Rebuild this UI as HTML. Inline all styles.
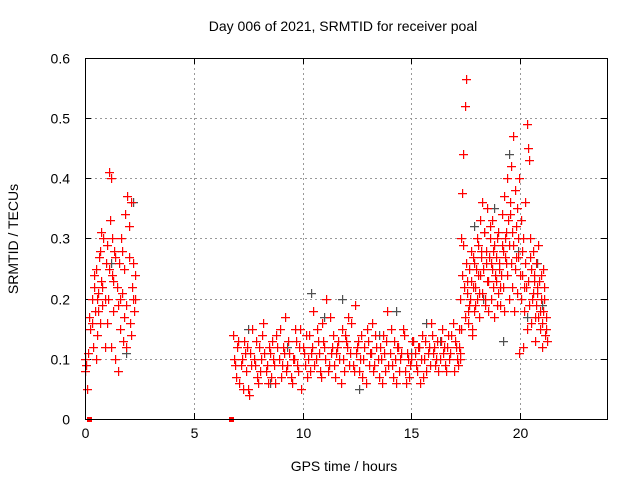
<!DOCTYPE html>
<html><head><meta charset="utf-8"><style>
body{margin:0;background:#fff}
svg{display:block;font-family:"Liberation Sans",sans-serif}
</style></head><body>
<svg id="chart" width="640" height="480" viewBox="0 0 640 480">
<rect width="640" height="480" fill="#fff"/>
<text x="343" y="31" font-size="14" text-anchor="middle">Day 006 of 2021, SRMTID for receiver poal</text>
<text x="344" y="471" font-size="14" text-anchor="middle">GPS time / hours</text>
<text transform="translate(18,239) rotate(-90)" font-size="14" text-anchor="middle">SRMTID / TECUs</text>
<g id="grid"></g>
<g id="ticks"></g>
<g id="gmarks" fill="#505050"></g>
<g id="marks" fill="#ff0000"></g>
<rect x="85.5" y="58.5" width="522" height="361" fill="none" stroke="#000" stroke-width="1"/>
</svg>
<script>
const xTicks=[0,5,10,15,20];
const yTicks=[0,0.1,0.2,0.3,0.4,0.5,0.6];
const yTickLabels=["0","0.1","0.2","0.3","0.4","0.5","0.6"];
const seg1=[[0,.08],[0,.1],[.05,.09],[.1,.05],[.15,.11],[.2,.17],[.25,.15],[.3,.2],[.35,.12],[.4,.22],[.45,.18],[.5,.25],[.55,.14],[.6,.21],[.65,.27],[.7,.16],[.75,.23],[.8,.19],[.85,.3],[.9,.12],[.95,.26],[1,.29],[1.05,.2],[1.1,.41],[1.15,.33],[1.2,.4],[1.25,.24],[1.3,.18],[1.35,.28],[1.4,.1],[1.45,.22],[1.5,.08],[1.55,.26],[1.6,.15],[1.65,.3],[1.7,.21],[1.75,.13],[1.8,.25],[1.85,.34],[1.9,.19],[1.95,.37],[2,.27],[2.05,.16],[2.1,.36],[2.15,.22],[2.2,.2],[2.25,.18],[2.3,.24],[1.2,.12],[.5,.1],[.7,.28],[.9,.2],[1,.16],[1.3,.23],[1.7,.28],[2,.32],[.3,.16],[.6,.18],[1.5,.19],[1.9,.12],[2.2,.26],[.4,.24],[.8,.22],[1.1,.25],[1.4,.27],[1.6,.2],[1.8,.17],[2.1,.14],[2.3,.2],[.55,.2],[1.25,.3],[.75,.31]];
const seg2Start=6.8, seg2Step=0.1;
const seg2A=[.14,.09,.12,.06,.1,.13,.08,.05,.11,.15,.09,.07,.12,.1,.16,.08,.06,.11,.13,.09,.14,.1,.07,.12,.17,.09,.11,.06,.1,.13,.08,.15,.12,.09,.07,.14,.11,.18,.1,.13,.08,.16,.12,.2,.09,.11,.14,.07,.12,.1,.15,.08,.13,.17,.11,.09,.19,.12,.08,.14,.1,.06,.13,.11,.16,.09,.12,.07,.1,.14,.08,.18,.11,.09,.13,.06,.12,.1,.15,.08,.11,.07,.1,.13,.09,.12,.06,.14,.1,.08,.12,.16,.11,.09,.13,.1,.15,.12,.08,.14,.11,.16,.13,.1,.15];
const seg2B=[.1,.07,.13,.09,.05,.11,.12,.04,.09,.1,.13,.06,.08,.14,.11,.09,.12,.07,.1,.06,.12,.15,.09,.11,.08,.13,.07,.1,.15,.09,.12,.05,.11,.14,.1,.08,.12,.09,.15,.11,.07,.13,.1,.08,.17,.12,.09,.11,.13,.06,.1,.14,.12,.09,.16,.08,.11,.13,.1,.07,.12,.15,.09,.11,.08,.14,.1,.12,.06,.11,.13,.09,.15,.07,.1,.12,.08,.11,.14,.06,.1,.09,.13,.11,.08,.12,.1,.07,.13,.11,.09,.14,.12,.1,.08,.13,.11,.09,.12,.1,.14,.08,.12,.09,.11];
const seg3Start=17.2, seg3Step=0.05;
const seg3A=[.12,.2,.3,.375,.44,.52,.565,.23,.18,.25,.2,.28,.15,.22,.26,.19,.3,.24,.21,.33,.27,.36,.25,.31,.2,.28,.35,.23,.3,.26,.33,.22,.29,.24,.27,.19,.31,.25,.22,.34,.28,.37,.3,.26,.4,.33,.29,.36,.42,.31,.47,.38,.27,.35,.3,.4,.24,.33,.28,.12,.22,.36,.49,.45,.43,.3,.25,.2,.28,.23,.17,.26,.21,.29,.18,.24,.16,.25,.2,.14,.17];
const seg3B=[.1,.15,.24,.29,.22,.17,.26,.21,.16,.19,.23,.14,.27,.18,.22,.25,.2,.29,.17,.24,.28,.21,.31,.19,.26,.23,.18,.27,.32,.2,.25,.28,.17,.23,.3,.21,.26,.19,.24,.29,.22,.18,.27,.31,.24,.2,.34,.26,.22,.29,.18,.25,.32,.21,.27,.11,.2,.24,.3,.18,.26,.22,.15,.23,.19,.27,.16,.21,.24,.13,.19,.22,.17,.23,.15,.2,.12,.18,.22,.15,.13];
const grayPts=[[1.2,.26],[1.9,.11],[2.2,.36],[7.5,.15],[8.5,.06],[9.3,.12],[10.4,.21],[11,.17],[11.8,.2],[12.6,.05],[13.5,.14],[14.3,.18],[15,.11],[15.7,.16],[16.3,.13],[17.9,.32],[18.3,.2],[18.8,.35],[19.2,.13],[19.5,.44],[19.9,.28],[20.3,.17],[20.8,.26],[21,.19]];
const zeroPts=[[.2,0],[6.7,0]];

const X=t=>85+t*(522/24), Y=v=>419-v*(361/0.6);
const NS="http://www.w3.org/2000/svg";
const grid=document.getElementById('grid'), ticks=document.getElementById('ticks'), marks=document.getElementById('marks'), gmarks=document.getElementById('gmarks');
function mk(tag,at,parent){const e=document.createElementNS(NS,tag);for(const k in at)e.setAttribute(k,at[k]);parent.appendChild(e);return e;}
xTicks.forEach(t=>{
  const x=Math.round(X(t))+.5;
  if(t>0){const g=mk('line',{x1:x,x2:x,y1:58,y2:419,stroke:'#999','stroke-dasharray':'2,3'},grid);
  
  }
  mk('line',{x1:x,x2:x,y1:419,y2:413,stroke:'#000'},ticks);
  mk('line',{x1:x,x2:x,y1:58,y2:64,stroke:'#000'},ticks);
  const l=mk('text',{x:x,y:438,'font-size':14,'text-anchor':'middle'},ticks);l.textContent=t;
  
  
});
yTicks.forEach((v,i)=>{
  const y=Math.round(Y(v))+.5;
  if(v>0&&v<0.6){const g=mk('line',{x1:85,x2:607,y1:y,y2:y,stroke:'#999','stroke-dasharray':'2,3'},grid);
  
  }
  mk('line',{x1:85,x2:91,y1:y,y2:y,stroke:'#000'},ticks);
  mk('line',{x1:601,x2:607,y1:y,y2:y,stroke:'#000'},ticks);
  const l=mk('text',{x:70,y:y+5,'font-size':14,'text-anchor':'end'},ticks);l.textContent=yTickLabels[i];
  
  
});
function plus(t,v,name,parent){
  const x=Math.round(X(t)),y=Math.round(Y(v));
  const p=mk('path',{d:`M${x-4} ${y}h9v1.2h-9zM${x} ${y-4}h1.2v9h-1.2z`},parent);
  
  
}
grayPts.forEach(p=>plus(p[0],p[1],'gray-point',gmarks));
seg1.forEach(p=>plus(p[0],p[1],'red-point',marks));
seg2A.forEach((v,i)=>plus(seg2Start+i*seg2Step,v,'red-point',marks));
seg2B.forEach((v,i)=>plus(seg2Start+0.05+i*seg2Step,v,'red-point',marks));
seg3A.forEach((v,i)=>plus(seg3Start+i*seg3Step,v,'red-point',marks));
seg3B.forEach((v,i)=>plus(seg3Start+0.025+i*seg3Step,v,'red-point',marks));
zeroPts.forEach(p=>{const r=mk('rect',{x:Math.round(X(p[0]))-2,y:Math.round(Y(p[1]))-2,width:5,height:5,fill:'#ff0000'},marks);
  
  });
</script>
</body></html>
